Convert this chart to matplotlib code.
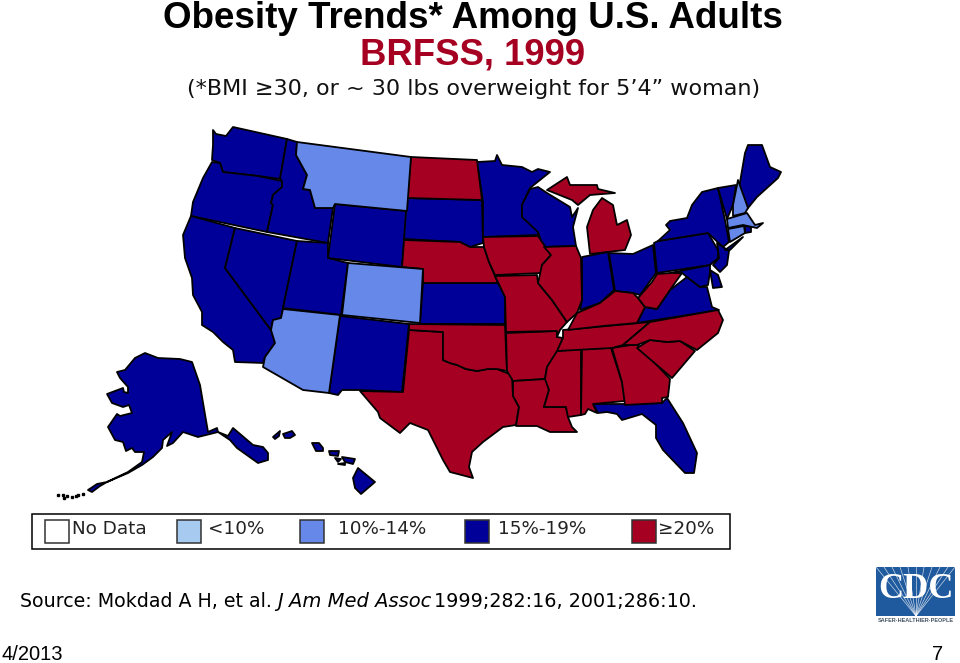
import matplotlib
matplotlib.use("Agg")
import matplotlib.pyplot as plt
from matplotlib.patches import Polygon, Rectangle

# ---- outline data: (x, y) ----
WA = [(213,130),(216,134),(226,136),(233,127),(287,139),(280,179),(258,176),(223,172),(220,163),(212,160),(213,145)]
OR = [(212,162),(220,163),(223,172),(258,176),(282,181),(282,187),(273,195),(271,203),(273,205),(267,232),(191,216),(193,202),(203,178)]
ID = [(287,139),(297,142),(296,155),(307,175),(303,189),(310,190),(315,208),(333,208),(328,243),(267,232),(273,205),(271,203),(273,195),(282,187),(282,181),(280,179)]
MT = [(297,142),(411,157),(407,211),(335,204),(333,208),(315,208),(310,190),(303,189),(307,175),(296,155)]
ND = [(411,157),(477,160),(482,200),(407,198)]
SD = [(407,198),(482,200),(483,243),(470,247),(460,242),(404,239)]
WY = [(335,204),(407,211),(402,267),(328,258)]
NE = [(404,240),(460,242),(470,247),(484,247),(489,262),(495,276),(498,283),(423,283),(423,269),(402,267)]
KS = [(423,283),(498,283),(505,297),(505,324),(420,324)]
CO = [(348,263),(423,269),(420,323),(342,315)]
UT = [(297,241),(328,243),(328,258),(348,263),(341,315),(283,308)]
NV = [(235,228),(297,241),(283,308),(281,318),(273,320),(271,330),(225,268)]
CA = [(191,216),(235,228),(225,268),(271,330),(275,343),(265,357),(263,363),(235,362),(233,350),(223,342),(213,332),(202,325),(202,312),(193,295),(192,278),(185,258),(183,235)]
AZ = [(283,309),(340,315),(329,393),(303,390),(263,367),(265,357),(275,343),(271,330),(273,320),(281,318)]
NM = [(340,316),(409,324),(402,392),(360,390),(342,390),(338,395),(329,393)]
TX = [(409,330),(443,332),(443,360),(450,363),(457,365),(466,369),(477,371),(488,369),(497,369),(512,375),(513,396),(519,407),(516,425),(503,427),(483,442),(472,452),(469,467),(473,478),(450,472),(443,460),(428,430),(410,423),(400,433),(380,418),(378,412),(360,391),(403,392)]
OK = [(409,324),(505,325),(507,371),(497,369),(488,369),(477,371),(466,369),(457,365),(450,363),(443,360),(443,332),(409,330)]
AR = [(506,333),(557,331),(557,337),(563,338),(557,352),(547,367),(545,379),(513,381),(507,371)]
LA = [(513,381),(546,379),(549,390),(544,407),(566,407),(568,417),(572,427),(577,432),(563,432),(550,432),(537,426),(516,426),(519,407),(513,396)]
MS = [(557,351),(581,349),(581,415),(568,417),(566,407),(544,407),(549,390),(545,379),(547,367)]
AL = [(582,349),(611,348),(622,382),(625,401),(593,404),(597,413),(588,409),(585,414),(581,415)]
GA = [(612,348),(637,344),(670,379),(668,397),(662,398),(662,403),(625,405),(622,382)]
SC = [(637,348),(650,340),(667,342),(680,341),(695,351),(672,378)]
FL = [(593,404),(625,404),(662,403),(667,398),(683,423),(697,453),(694,473),(685,473),(663,450),(656,438),(656,425),(642,414),(622,420),(617,414),(607,412),(598,413)]
TN = [(563,330),(650,322),(643,328),(623,345),(612,348),(557,351),(563,338)]
NC = [(650,322),(718,310),(723,320),(718,333),(697,350),(680,341),(667,342),(650,340),(637,345),(623,345),(643,328)]
MN = [(477,162),(495,161),(497,155),(502,165),(522,167),(532,172),(538,169),(550,172),(530,188),(522,205),(522,217),(538,230),(538,235),(483,237),(483,202)]
IA = [(483,237),(538,236),(551,255),(542,265),(542,273),(495,275),(489,262),(484,247)]
MO = [(495,276),(537,275),(538,283),(552,300),(567,322),(560,330),(557,337),(557,331),(506,332),(505,297)]
WI = [(530,189),(538,187),(547,193),(570,207),(572,217),(578,208),(573,227),(576,246),(543,247),(538,232),(522,217),(522,205)]
IL = [(544,247),(576,246),(581,258),(582,300),(577,313),(567,322),(552,300),(538,283),(542,265),(551,255)]
IN = [(582,257),(608,252),(614,290),(600,303),(580,310),(582,300)]
OH = [(609,253),(633,254),(653,245),(656,273),(640,295),(633,293),(615,291)]
MI_LOWER = [(602,198),(613,205),(617,225),(627,220),(631,235),(625,250),(590,254),(587,227),(593,210)]
MI_UPPER = [(547,190),(567,177),(570,185),(597,185),(598,189),(615,193),(590,195),(578,205),(572,200)]
KY = [(568,330),(577,313),(600,303),(615,291),(633,293),(638,298),(645,307),(637,323),(603,326)]
WV = [(657,274),(670,273),(682,273),(670,290),(657,309),(645,307),(638,298),(652,282)]
VA = [(637,323),(645,307),(657,309),(670,290),(687,277),(700,287),(707,287),(712,307),(719,310)]
PA = [(654,243),(658,241),(708,233),(718,250),(718,258),(710,265),(657,273)]
NY = [(658,241),(670,230),(666,225),(670,221),(687,218),(692,205),(702,192),(718,188),(725,220),(729,242),(723,247),(708,233)]
LONG_ISLAND = [(725,250),(743,237),(730,250)]
VT = [(718,188),(736,185),(733,205),(727,219)]
NH = [(738,180),(748,208),(745,213),(733,216),(733,205)]
ME = [(739,188),(745,153),(748,145),(762,145),(770,167),(781,172),(778,178),(757,197),(748,208)]
MA = [(727,219),(747,213),(755,225),(763,223),(757,228),(743,225),(728,228)]
CT = [(728,229),(744,226),(745,233),(730,242)]
RI = [(745,226),(751,227),(751,232),(745,233)]
NJ = [(717,243),(729,251),(727,265),(720,272),(713,265),(719,258),(718,250)]
MD = [(670,273),(710,265),(710,272),(708,285),(700,287),(687,277),(682,273)]
DE_SHORE = [(710,270),(718,275),(722,287),(713,288)]
AK = [(125,370),(135,358),(145,353),(158,358),(180,359),(192,362),(200,385),(208,432),(217,428),(218,432),(198,437),(183,432),(173,443),(167,446),(172,432),(163,440),(162,448),(153,457),(142,465),(128,473),(107,482),(128,472),(142,462),(144,452),(135,452),(132,448),(126,451),(123,442),(115,440),(108,427),(117,414),(120,416),(132,413),(129,405),(123,407),(112,403),(107,394),(123,388),(124,392),(128,393),(128,387),(120,378),(117,372)]
AK_PANHANDLE = [(218,432),(228,436),(233,428),(253,445),(263,447),(268,453),(268,460),(258,463),(237,448),(230,440)]
ALEUTIANS = [(88,490),(97,484),(107,482),(100,486),(92,492)]
ALEUTIAN_DOTS = [(58,495),(63,495),(64,498),(67,496),(72,497),(76,496),(78,495),(83,494)]
HI_BIG = [(358,468),(375,482),(361,494),(355,488),(353,478)]
HI_MAUI = [(342,457),(355,459),(353,464),(345,462)]
HI_OAHU = [(312,443),(319,443),(323,448),(323,451),(316,451)]
HI_MOLOKAI = [(329,451),(339,451),(338,456),(330,455)]
HI_LANAI = [(335,458),(341,459),(338,462)]
HI_KAHOOLAWE = [(338,464),(345,463),(345,465)]
HI_KAUAI = [(283,434),(292,431),(295,435),(290,438),(285,438)]
HI_NIIHAU = [(273,437),(280,431),(279,436),(275,439)]

FROM_10 = [MT, CO, AZ, NH, MA, CT]
FROM_15 = [WA, OR, ID, CA, NV, UT, WY, SD, KS, NM, MN, WI, IN, OH, PA, NY, VT, ME, VA, NJ, MD, DE_SHORE,
           RI, LONG_ISLAND, FL, AK, AK_PANHANDLE, ALEUTIANS, HI_BIG, HI_MAUI, HI_OAHU, HI_MOLOKAI,
           HI_LANAI, HI_KAHOOLAWE, HI_KAUAI, HI_NIIHAU]
FROM_20 = [ND, NE, TX, OK, AR, LA, MS, AL, GA, SC, TN, NC, IA, MO, IL, MI_LOWER, MI_UPPER, KY, WV]

LEGEND_LABELS = ["No Data", "<10%", "10%-14%", "15%-19%", "\u226520%"]
LEGEND_COLORS = ["#FFFFFF", "#A6CAF0", "#6688E8", "#000099", "#A50021"]
TITLE = "Obesity Trends* Among U.S. Adults"
SUBTITLE = "BRFSS, 1999"
NOTE = "(*BMI \u226530, or ~ 30 lbs overweight for 5\u20194\u201d woman)"
CDC_RAY_ENDS = [876, 884, 892, 900, 908, 916, 924, 932, 940, 948, 955]

fig = plt.figure(figsize=(9.6, 6.63), dpi=100)
ax = fig.add_axes([0, 0, 1, 1])
ax.set_xlim(0, 960)
ax.set_ylim(663, 0)
ax.axis("off")

INK = "#000000"
def draw(states, colour):
    for s in states:
        ax.add_patch(Polygon(s, closed=True, facecolor=colour, edgecolor=INK,
                             linewidth=1.3, joinstyle="round"))

draw(FROM_15, LEGEND_COLORS[3])
draw(FROM_20, LEGEND_COLORS[4])
draw(FROM_10, LEGEND_COLORS[2])
ax.plot([p[0] for p in ALEUTIAN_DOTS], [p[1] for p in ALEUTIAN_DOTS], ls="none",
        marker="s", ms=2, color=INK)

# titles
ax.text(473, 28, TITLE, family="Liberation Sans", weight="bold", fontsize=26.5,
        ha="center", va="baseline", color="#000000")
ax.text(473, 64, SUBTITLE, family="Liberation Sans", weight="bold", fontsize=26.3,
        ha="center", va="baseline", color=LEGEND_COLORS[4])
ax.text(474, 95, NOTE, family="DejaVu Sans", fontsize=16, ha="center", va="baseline",
        color="#111111")

# legend
ax.add_patch(Rectangle((32, 514), 698, 35, facecolor="white", edgecolor=INK, linewidth=1.1))
sw_x = [45, 177, 300, 465, 632]
tx_x = [72, 208, 338, 498, 658]
for x, tx, lab, col in zip(sw_x, tx_x, LEGEND_LABELS, LEGEND_COLORS):
    ax.add_patch(Rectangle((x, 520), 24, 23, facecolor=col, edgecolor="#333333", linewidth=1.1))
    ax.text(tx, 534, lab, family="DejaVu Sans", fontsize=13.2, va="baseline", ha="left",
            color="#222222")

# source
y_s = 607
ax.text(20, y_s, "Source: Mokdad A H, et al.", family="DejaVu Sans", fontsize=13.7, va="baseline")
ax.text(277, y_s, "J Am Med Assoc", family="DejaVu Sans", style="italic", fontsize=14, va="baseline")
ax.text(434, y_s, "1999;282:16, 2001;286:10.", family="DejaVu Sans", fontsize=13.8, va="baseline")

ax.text(1, 660, "4/2013", family="Liberation Sans", fontsize=14.5, va="baseline", ha="left")
ax.text(938, 660, "7", family="Liberation Sans", fontsize=14.5, va="baseline", ha="center")

# CDC logo
ax.add_patch(Rectangle((876, 567), 79, 49, facecolor="#1F5A9E", edgecolor="none"))
for x_end in CDC_RAY_ENDS:
    ax.plot([916, x_end], [616, 567], color="white", lw=0.5, alpha=0.75)
ax.text(915.5, 589, "CDC", family="Liberation Serif", weight="bold", fontsize=25, color="white",
        ha="center", va="center")
ax.text(915.5, 620, "SAFER\u00b7HEALTHIER\u00b7PEOPLE", family="Liberation Sans", weight="bold",
        fontsize=4, color="#445566", ha="center", va="center")

fig.savefig("out.png", dpi=100)
